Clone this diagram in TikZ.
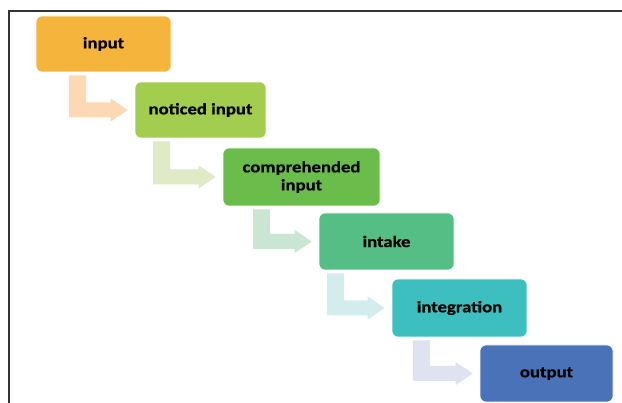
\documentclass[tikz,border=0pt]{standalone}
\usepackage{fontspec}
\setmainfont{Carlito}[FakeStretch=1.17,BoldFeatures={FakeBold=0.6}]
\usetikzlibrary{calc}
\definecolor{cA}{HTML}{F5B43C}
\definecolor{cB}{HTML}{A2CD4E}
\definecolor{cC}{HTML}{6ABD4B}
\definecolor{cD}{HTML}{55BE84}
\definecolor{cE}{HTML}{3DBFBF}
\definecolor{cF}{HTML}{4A72B9}
\definecolor{aA}{HTML}{FCD8B4}
\definecolor{aB}{HTML}{DEEBC6}
\definecolor{aC}{HTML}{CAE6D3}
\definecolor{aD}{HTML}{D3EDED}
\definecolor{aE}{HTML}{DFE2F0}
\tikzset{
  stagebox/.style={rounded corners=6pt, inner sep=0pt, align=center,
    font=\fontsize{16}{18}\selectfont\bfseries, text=black, draw=white, line width=0.6pt},
}
\newcommand{\bentarr}[4]{%
  \fill[#1] let \p1=(#2.south), \p2=(#3.west) in
    (#4pt,\y1-3pt) -- (#4pt+17pt,\y1-3pt) -- (#4pt+17pt,\y2+7.5pt)
    -- (\x2-24pt,\y2+7.5pt) -- (\x2-24pt,\y2+11.5pt) -- (\x2-7pt,\y2)
    -- (\x2-24pt,\y2-11.5pt) -- (\x2-24pt,\y2-7.5pt) -- (#4pt,\y2-7.5pt) -- cycle;}
\begin{document}
\begin{tikzpicture}[x=1pt,y=-1pt]
\useasboundingbox (0,0) rectangle (622,403);
\fill[white] (0,0) rectangle (622,403);
\draw[line width=2pt, draw=black!80] (622,11) -- (9,11) -- (9,403);
\node[stagebox, fill=cA, minimum width=135pt, minimum height=56pt] (n1) at (103.5,44) {input};
\node[stagebox, fill=cB, minimum width=131pt, minimum height=56pt] (n2) at (200.5,110) {noticed input};
\node[stagebox, fill=cC, minimum width=157pt, minimum height=58pt] (n3) at (301.5,177) {comprehended\\input};
\node[stagebox, fill=cD, minimum width=135pt, minimum height=57pt] (n4) at (386.5,241.5) {intake};
\node[stagebox, fill=cE, minimum width=135pt, minimum height=58pt] (n5) at (459.5,308) {integration};
\node[stagebox, fill=cF, minimum width=133pt, minimum height=57pt] (n6) at (546.5,373.5) {output};
\bentarr{aA}{n1}{n2}{69}
\bentarr{aB}{n2}{n3}{153}
\bentarr{aC}{n3}{n4}{253}
\bentarr{aD}{n4}{n5}{327}
\bentarr{aE}{n5}{n6}{413}
\end{tikzpicture}
\end{document}
